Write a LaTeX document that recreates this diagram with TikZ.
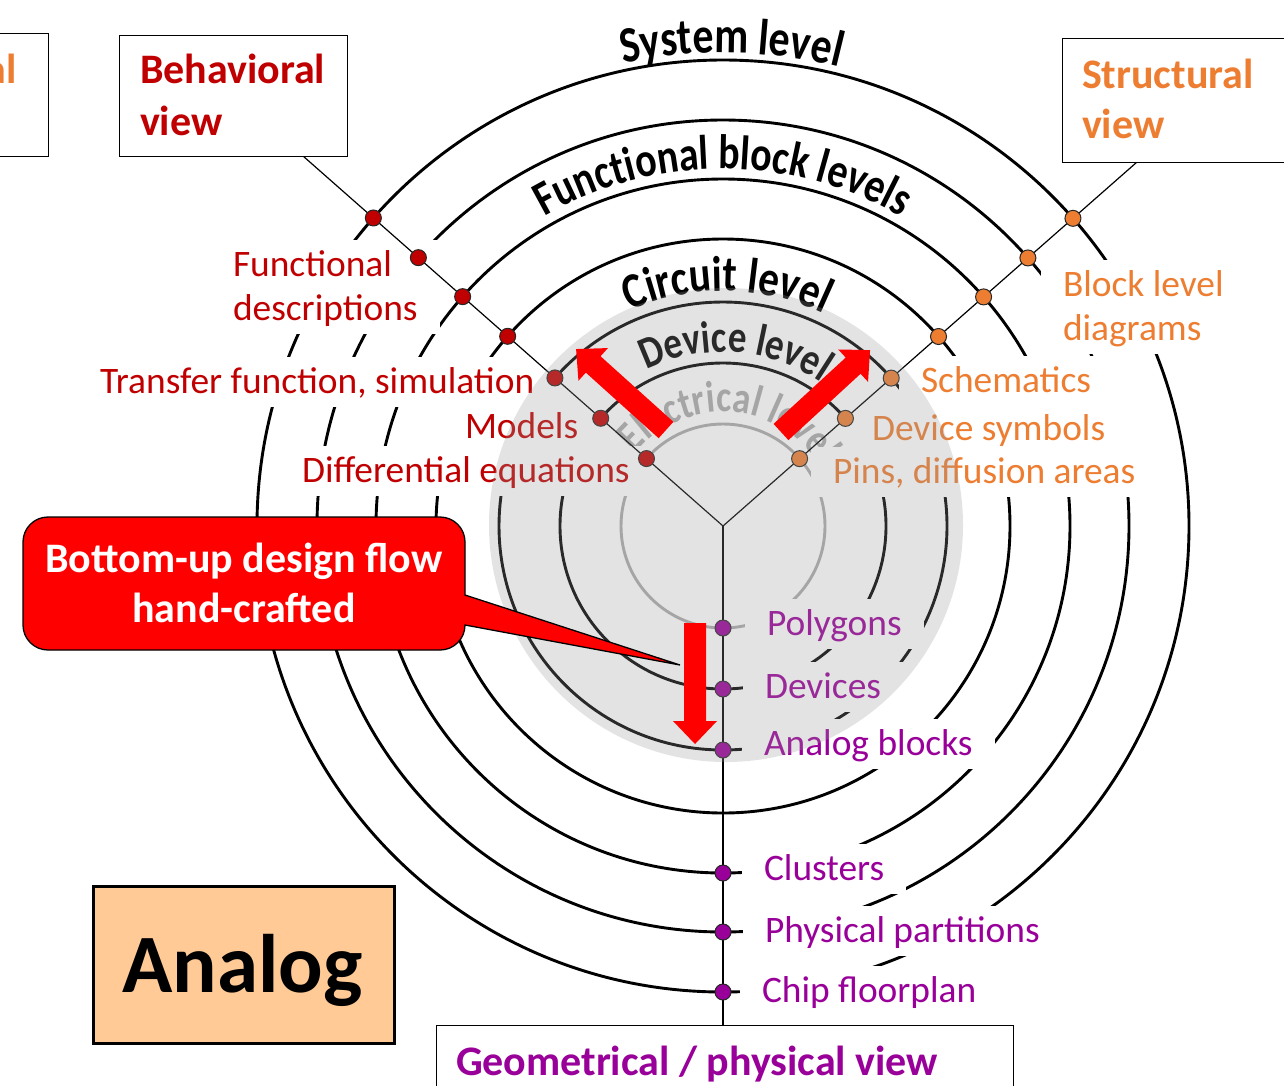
\documentclass[tikz,border=0pt]{standalone}
\usepackage{fontspec}
\setmainfont{Carlito}
\newfontfamily\arcfamily{Carlito}[FakeStretch=0.82]
\usetikzlibrary{calc,decorations.text}

\definecolor{behred}{HTML}{C00000}
\definecolor{strorange}{HTML}{ED7D31}
\definecolor{geopurple}{HTML}{990099}
\definecolor{peach}{RGB}{255,202,150}
\definecolor{elgray}{RGB}{170,170,170}
\definecolor{flowred}{RGB}{255,0,0}

% fonts
\newcommand\labfont{\fontsize{37.4}{44}\selectfont}
\newcommand\viewfont{\fontsize{42}{50}\selectfont\bfseries}
\newcommand\sysfont{\arcfamily\fontsize{51}{51}\selectfont\bfseries}
\newcommand\funcfont{\arcfamily\fontsize{48.5}{48}\selectfont\bfseries}
\newcommand\circfont{\arcfamily\fontsize{50}{50}\selectfont\bfseries}
\newcommand\devfont{\arcfamily\fontsize{45}{45}\selectfont\bfseries}
\newcommand\elecfont{\arcfamily\fontsize{44}{44}\selectfont\bfseries}

% two-line texts whose reference point is the first baseline
\newcommand\lablines[2]{\vtop{\baselineskip=44pt\hbox{\rule{0pt}{36pt}#1}\hbox{\rule[-14pt]{0pt}{14pt}#2}}}
\newcommand\titlelines[3]{\vtop{\baselineskip=#1\hbox{#2}\hbox{#3}}}
\newcommand\centerlines[3]{\vtop{\baselineskip=#1\halign{\hfil##\hfil\cr#2\cr#3\cr}}}

\tikzset{
  ring/.style={line width=2.9pt, draw=black},
  axis/.style={line width=1.2pt, draw=black},
  lab/.style={fill=white, inner xsep=22pt, inner ysep=0pt, text height=36pt, text depth=14pt, font=\labfont},
  labtwo/.style={fill=white, inner xsep=22pt, inner ysep=0pt, font=\labfont},
  dot/.style={circle, draw=black!85, line width=1pt, inner sep=0pt, minimum size=16pt},
  viewbox/.style={draw=black, line width=1.2pt, fill=white, inner sep=0pt},
  bigarrow/.pic={\fill[flowred] (0,-11) -- (98,-11) -- (98,-22) -- (121,0) -- (98,22) -- (98,11) -- (0,11) -- cycle;},
}

\begin{document}
\begin{tikzpicture}[x=1pt,y=1pt]
\useasboundingbox (0,0) rectangle (1284,-1085);
\fill[white] (0,0) rectangle (1284,-1085);

\coordinate (C) at (723,-526);
\coordinate (D) at (726,-525);
\coordinate (bvEnd) at (303,-156);
\coordinate (svEnd) at (1137,-162);
\coordinate (gvEnd) at (723,-1025);

% level rings
\draw[ring, draw=elgray] (C) circle[radius=102];
\foreach \r in {163,224,287,347,406,466}
  \draw[ring] (C) circle[radius=\r];

% level names along the rings
\path[decorate, decoration={text along path, text align=center, text={|\sysfont|System level}}]
  (C) ++(159:473) arc[start angle=159, end angle=19, radius=473];
\path[decorate, decoration={text along path, text align=center, text={|\funcfont|Functional block levels}}]
  (C) ++(170:357) arc[start angle=170, end angle=10, radius=357];
\path[decorate, decoration={text along path, text align=center, text={|\circfont|Circuit level}}]
  (C) ++(164:235) arc[start angle=164, end angle=14, radius=235];
\path[decorate, decoration={text along path, text align=center, text={|\devfont|Device level}}]
  (C) ++(161:174) arc[start angle=161, end angle=11, radius=174];
\path[decorate, decoration={text along path, text align=center, text color=elgray, text={|\elecfont|Electrical level}}]
  (C) ++(171.5:114) arc[start angle=171.5, end angle=1.5, radius=114];

% behavioural descriptions
\node[labtwo, text=behred, anchor=text] (fdesc) at (233,-276) {\lablines{Functional}{descriptions}};
\node[lab, text=behred, anchor=text] (tfun) at (100,-393) {Transfer function, simulation};
\node[lab, text=behred, anchor=text] (models) at (465,-438) {Models};
\node[lab, text=behred, anchor=text] (diffeq) at (302,-482) {Differential equations};

% structural descriptions
\node[labtwo, text=strorange, anchor=text] (blockdiag) at (1063,-296) {\lablines{Block level}{diagrams}};
\node[lab, text=strorange, anchor=text] (schem) at (921,-392) {Schematics};
\node[lab, text=strorange, anchor=text] (devsym) at (872,-440) {Device symbols};
\node[lab, text=strorange, anchor=text] (pins) at (833,-483) {Pins, diffusion areas};

% geometrical descriptions
\node[lab, text=geopurple, anchor=text] (poly) at (767,-635) {Polygons};
\node[lab, text=geopurple, anchor=text] (devs) at (765,-698) {Devices};
\node[lab, text=geopurple, anchor=text] (ablocks) at (764,-755) {Analog blocks};
\node[lab, text=geopurple, anchor=text] (clus) at (764,-880) {Clusters};
\node[lab, text=geopurple, anchor=text] (ppart) at (765,-942) {Physical partitions};
\node[lab, text=geopurple, anchor=text] (chipfp) at (762,-1002) {Chip floorplan};

% the three axes
\draw[axis] (C) -- (bvEnd);
\draw[axis] (C) -- (svEnd);
\draw[axis] (C) -- (gvEnd);

% crossings of axes and rings
\foreach \r [count=\i] in {102,163,224,287,347,406,466} {
  \node[dot, fill=behred] (bdot\i) at ($(C)!\r pt!(bvEnd)$) {};
  \node[dot, fill=strorange] (sdot\i) at ($(C)!\r pt!(svEnd)$) {};
}
\foreach \r [count=\i] in {102,163,224,347,406,466}
  \node[dot, fill=geopurple] (gdot\i) at ($(C)!\r pt!(gvEnd)$) {};

% translucent disc over the inner levels
\fill[black!40, fill opacity=0.27] (D) circle[radius=237];

% bottom-up flow arrows
\path (666,-430) pic[rotate=138] {bigarrow};
\path (781,-432) pic[rotate=42.6] {bigarrow};
\path (695,-623) pic[rotate=-90] {bigarrow};

% callout
\draw[fill=flowred, draw=black, line width=1.3pt]
  (465,-595) -- (465,-542) arc[start angle=0, end angle=90, radius=25]
  -- (48,-517) arc[start angle=90, end angle=180, radius=25]
  -- (23,-625) arc[start angle=180, end angle=270, radius=25]
  -- (440,-650) arc[start angle=270, end angle=360, radius=25]
  -- (680,-665) -- cycle;
\node[anchor=base, inner sep=0pt, text=white, font=\viewfont] (flowtxt) at (244,-572)
  {\centerlines{50pt}{Bottom-up design flow}{hand-crafted}};

% view boxes
\node[viewbox, anchor=north west, minimum width=248pt, minimum height=123pt] (leftbox) at (-200,-33) {};
\node[anchor=base east, inner sep=0pt, text=strorange, font=\viewfont] (lefttxt) at (17,-83) {al};

\node[viewbox, anchor=north west, minimum width=228pt, minimum height=121pt] (behbox) at (119,-35) {};
\node[anchor=text, inner sep=0pt, text=behred, font=\viewfont] (behtxt) at (140,-83)
  {\titlelines{52pt}{Behavioral}{view}};

\node[viewbox, anchor=north west, minimum width=260pt, minimum height=124pt] (strbox) at (1062,-38) {};
\node[anchor=text, inner sep=0pt, text=strorange, font=\viewfont] (strtxt) at (1082,-88)
  {\titlelines{50pt}{Structural}{view}};

\node[viewbox, anchor=north west, minimum width=577pt, minimum height=100pt] (geobox) at (436,-1025) {};
\node[anchor=text, inner sep=0pt, text=geopurple, font=\viewfont] (geotxt) at (456,-1075)
  {Geometrical / physical view};

\node[draw=black, line width=3pt, fill=peach, anchor=north west, minimum width=301pt, minimum height=157pt, inner sep=0pt] (analogbox) at (92,-885) {};
\node[anchor=base, inner sep=0pt, font=\fontsize{83}{90}\selectfont\bfseries] (analogtxt) at (242.5,-992) {Analog};
\end{tikzpicture}
\end{document}
